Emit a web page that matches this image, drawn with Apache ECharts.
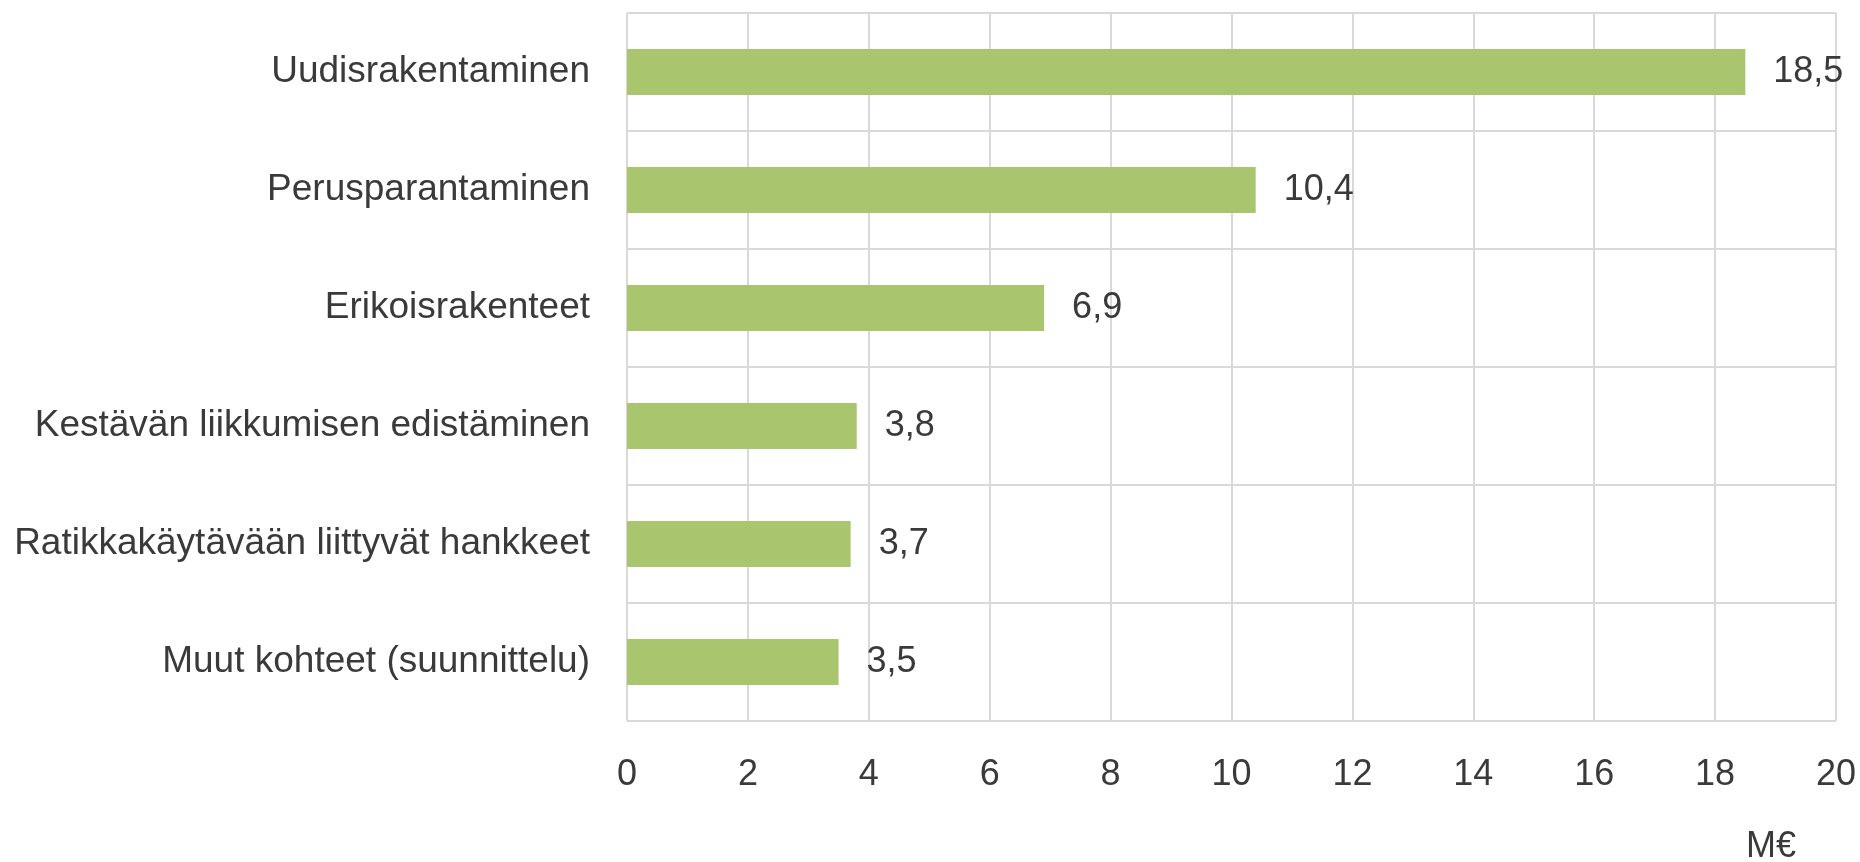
<!DOCTYPE html>
<html>
<head>
<meta charset="utf-8">
<script src="https://cdn.jsdelivr.net/npm/echarts@6/dist/echarts.min.js"></script>
<style>
  html, body { margin: 0; padding: 0; background: #fff; }
  #chart { width: 1860px; height: 862px; }
</style>
</head>
<body>
<div id="chart"></div>
<script>
// luokat ylhäältä alas
const categories = [
  'Uudisrakentaminen',
  'Perusparantaminen',
  'Erikoisrakenteet',
  'Kestävän liikkumisen edistäminen',
  'Ratikkakäytävään liittyvät hankkeet',
  'Muut kohteet (suunnittelu)'
];
const values = [18.5, 10.4, 6.9, 3.8, 3.7, 3.5];
const unitLabel = 'M€';

const font = '"Liberation Sans", Arial, sans-serif';
const textColor = '#3a3a3a';
const gridColor = '#d9d9d9';

var myChart = echarts.init(document.getElementById('chart'));
var option = {
  animation: false,
  grid: { left: 627, right: 24, top: 13, bottom: 141, containLabel: false },
  xAxis: {
    type: 'value',
    min: 0,
    max: 20,
    interval: 2,
    axisLine: { show: false },
    axisTick: { show: false },
    axisLabel: { color: textColor, fontSize: 36, fontFamily: font, margin: 36 },
    splitLine: { show: true, lineStyle: { color: gridColor, width: 2 } }
  },
  yAxis: {
    type: 'category',
    inverse: true,
    data: categories,
    axisLine: { show: false },
    axisTick: { show: false },
    axisLabel: { color: textColor, fontSize: 37, fontFamily: font, margin: 37 },
    splitLine: { show: true, lineStyle: { color: gridColor, width: 2 } }
  },
  series: [{
    type: 'bar',
    data: values,
    barWidth: 46,
    itemStyle: { color: '#a9c66f' },
    label: {
      show: true,
      position: 'right',
      distance: 28,
      color: textColor,
      fontSize: 36,
      fontFamily: font,
      formatter: p => p.value.toFixed(1).replace('.', ',')
    }
  }],
  graphic: [{
    type: 'text',
    left: 1746,
    top: 829,
    style: { text: unitLabel, fill: textColor, fontSize: 36, fontFamily: font }
  }]
};
myChart.setOption(option);
</script>
</body>
</html>
